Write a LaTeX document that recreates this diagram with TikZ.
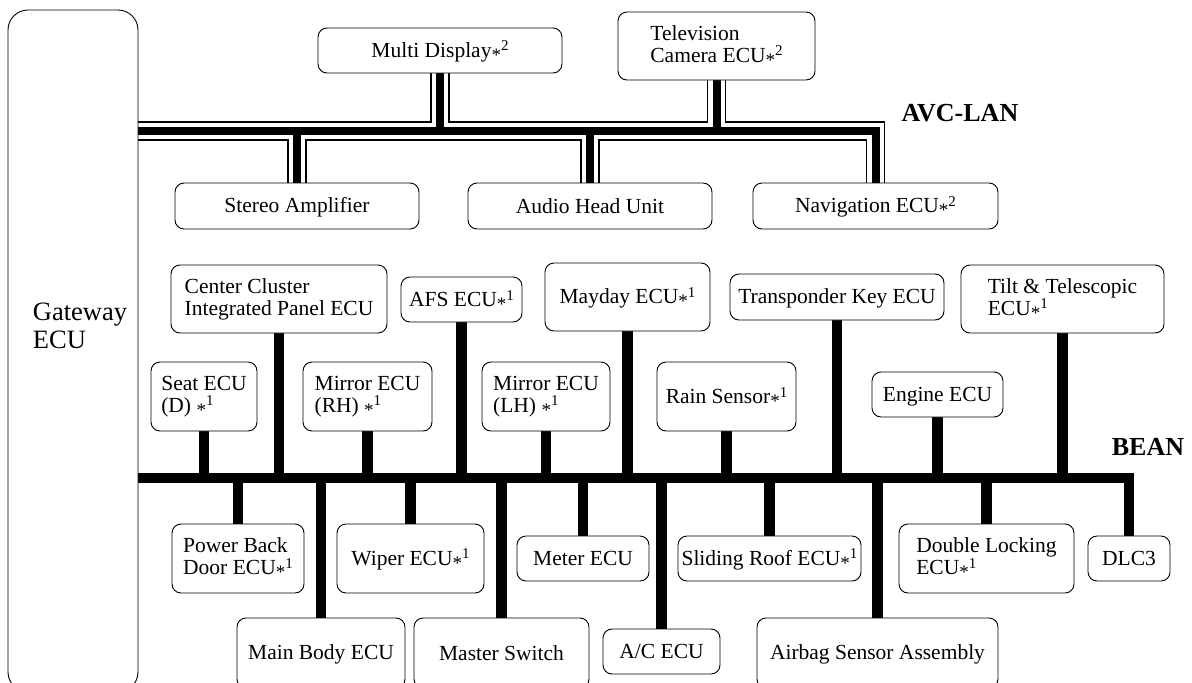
\documentclass[tikz,border=0pt]{standalone}
\usepackage{fontspec}
\setmainfont{Liberation Serif}
\usetikzlibrary{backgrounds}
% footnote mark: a low asterisk followed by a raised number
\newcommand\fnote[1]{{\fontsize{19}{19}\selectfont\raisebox{-4pt}{*}}{\fontsize{15}{15}\selectfont\raisebox{6.5pt}{#1}}}
% invisible strut that fixes the height of the first and last text lines
\newcommand\ecustrut{\rule[-3.6pt]{0pt}{22pt}}

\begin{document}
\begin{tikzpicture}[x=1pt,y=-1pt,
  ecu/.style={draw, line width=0.9pt, rounded corners=9pt, fill=white,
    inner sep=0pt, outer sep=0pt, align=left,
    font=\fontsize{21.5}{22}\selectfont,
    execute at begin node=\ecustrut, execute at end node=\ecustrut},
  sz/.style 2 args={minimum width=#1pt, minimum height=#2pt},
  busname/.style={font=\fontsize{26}{26}\selectfont\bfseries},
  avcout/.style={line width=19.5pt, black},
  avcgap/.style={line width=16.8pt, white},
  avccore/.style={line width=8pt, black},
  beanline/.style={line width=10.5pt, black},
  line join=miter]
\useasboundingbox (0,0) rectangle (1192,683);

% gateway
\node[draw, line width=0.9pt, rounded corners=20pt, fill=white,
  inner sep=0pt, outer sep=0pt, minimum width=130pt, minimum height=682pt]
  (gw) at (73,351) {};
\node[align=left, font=\fontsize{26.5}{28}\selectfont] (gwtext) at (80,326) {Gateway\\ECU};

% AVC-LAN members
\node[ecu, sz={244}{45}] (md)  at (440,50.5)  {Multi Display\fnote{2}};
\node[ecu, sz={197}{68}] (tv)  at (716.5,46)  {Television\\Camera ECU\fnote{2}};
\node[ecu, sz={244}{46}] (sa)  at (297,206)   {Stereo Amplifier};
\node[ecu, sz={244}{46}] (ah)  at (590,206)   {Audio Head Unit};
\node[ecu, sz={245}{46}] (nav) at (875.5,206) {Navigation ECU\fnote{2}};
\node[busname] (avclabel) at (960,113) {AVC-LAN};

% BEAN members above the bus
\node[ecu, sz={216}{68}] (cc)   at (279,299)    {Center Cluster\\Integrated Panel ECU};
\node[ecu, sz={121}{45}] (afs)  at (461.5,299.5) {AFS ECU\fnote{1}};
\node[ecu, sz={165}{68}] (may)  at (627.5,297)  {Mayday ECU\fnote{1}};
\node[ecu, sz={214}{46}] (tk)   at (837,297)    {Transponder Key ECU};
\node[ecu, sz={203}{68}] (tilt) at (1062.5,299) {Tilt \& Telescopic\\ECU\fnote{1}};
\node[ecu, sz={106}{69}] (seat) at (204,396.5)  {Seat ECU\\(D) \fnote{1}};
\node[ecu, sz={129}{69}] (mrh)  at (367.5,396.5) {Mirror ECU\\(RH) \fnote{1}};
\node[ecu, sz={128}{69}] (mlh)  at (546,396.5)  {Mirror ECU\\(LH) \fnote{1}};
\node[ecu, sz={139}{69}] (rain) at (726.5,396.5) {Rain Sensor\fnote{1}};
\node[ecu, sz={131}{45}] (eng)  at (937.5,394.5) {Engine ECU};
\node[busname] (beanlabel) at (1148,447) {BEAN};

% BEAN members below the bus
\node[ecu, sz={132}{69}] (pbd) at (238,558.5)   {Power Back\\Door ECU\fnote{1}};
\node[ecu, sz={147}{69}] (wip) at (410.5,558.5) {Wiper ECU\fnote{1}};
\node[ecu, sz={132}{45}] (met) at (583,558.5)   {Meter ECU};
\node[ecu, sz={183}{45}] (sr)  at (769.5,558.5) {Sliding Roof ECU\fnote{1}};
\node[ecu, sz={175}{69}] (dl)  at (986.5,558.5) {Double Locking\\ECU\fnote{1}};
\node[ecu, sz={82}{45}]  (dlc) at (1129,558.5)  {DLC3};
\node[ecu, sz={168}{70}] (mb)  at (321,653)     {Main Body ECU};
\node[ecu, sz={175}{70}] (ms)  at (501.5,653)   {Master Switch};
\node[ecu, sz={117}{45}] (ac)  at (661.5,651.5) {A/C ECU};
\node[ecu, sz={241}{70}] (ab)  at (877.5,653)   {Airbag Sensor Assembly};

% bus end points
\coordinate (avcA) at (gw.east |- 0,131);
\coordinate (avcB) at (nav.north |- avcA);
\coordinate (beanA) at (gw.east |- 0,478);
\coordinate (beanB) at (dlc.north |- beanA);

\begin{pgfonlayer}{background}
% AVC-LAN: thick core between two thin conductors, drawn in three passes
\foreach \s in {avcout, avcgap, avccore} {
  \draw[\s] (avcA) -- (avcB) -- (nav.north);
  \draw[\s] (md.south) -- (md.south |- avcA);
  \draw[\s] (tv.south) -- (tv.south |- avcA);
  \draw[\s] (sa.north) -- (sa.north |- avcA);
  \draw[\s] (ah.north) -- (ah.north |- avcA);
}
% BEAN
\draw[beanline] (beanA) -- (beanB) -- (dlc.north);
\foreach \n in {cc, afs, may, tk, tilt, seat, mrh, mlh, rain, eng}
  \draw[beanline] (\n.south) -- (\n.south |- beanA);
\foreach \n in {pbd, wip, met, sr, dl, mb, ms, ac, ab}
  \draw[beanline] (\n.north) -- (\n.north |- beanA);
\end{pgfonlayer}
\end{tikzpicture}
\end{document}
